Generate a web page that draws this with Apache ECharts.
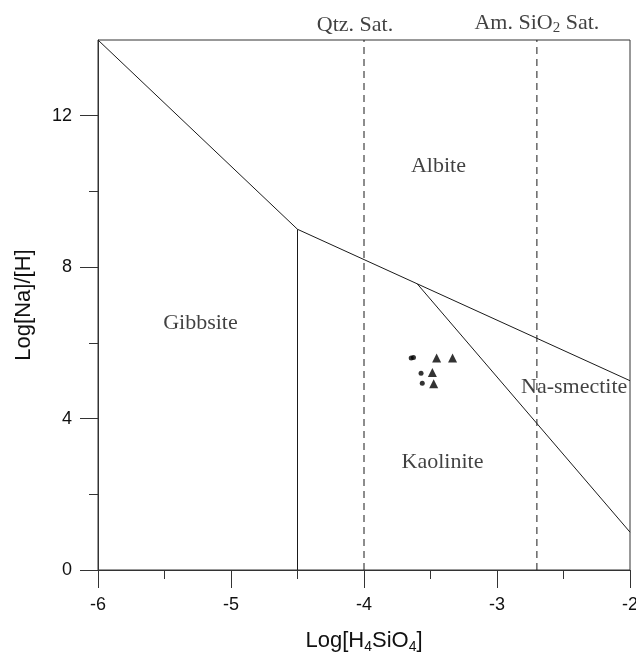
<!DOCTYPE html>
<html>
<head>
<meta charset="utf-8">
<script src="https://cdn.jsdelivr.net/npm/echarts@6/dist/echarts.min.js"></script>
<style>
  html, body { margin: 0; padding: 0; background: #fff; }
  #chart { width: 636px; height: 659px; }
</style>
</head>
<body>
<div id="chart"></div>
<script>
// Stability field boundaries, Log[H4SiO4] vs Log[Na]/[H]
const gibbsiteAlbite = [[-6, 14], [-4.5, 9]];
const gibbsiteKaolinite = [[-4.5, 0], [-4.5, 9]];
const kaoliniteAlbite = [[-4.5, 9], [-3.6, 7.56], [-2, 5]];
const kaoliniteSmectite = [[-3.6, 7.56], [-2, 1]];

// Silica saturation lines
const qtzSat = [[-4, 0], [-4, 14]];
const amSiO2Sat = [[-2.7, 0], [-2.7, 14]];

// Water samples
const circleSamples = [[-3.645, 5.6], [-3.628, 5.61], [-3.571, 5.2], [-3.562, 4.93]];
const triangleSamples = [[-3.454, 5.6], [-3.334, 5.6], [-3.486, 5.22], [-3.476, 4.92]];

// Field names and where they sit
const fieldNames = ['Albite', 'Gibbsite', 'Kaolinite', 'Na-smectite'];
const fieldAnchors = [[-3.44, 10.66], [-5.23, 6.53], [-3.41, 2.84], [-2.42, 4.82]];

// Saturation line captions
const satNames = ['Qtz. Sat.', '{t|Am. SiO}{s|2}{t| Sat.}'];
const satAnchors = [[-4, 14], [-2.7, 14]];

// Axis ticks
const xRange = { min: -6, max: -2, interval: 1 };
const yRange = { min: 0, max: 14 };
const yMajorTicks = [0, 4, 8, 12];
const yMinorTicks = [2, 6, 10];

const ink = '#1a1a1a';
const axisInk = '#333';
const serif = '"Liberation Serif", "Times New Roman", serif';
const sans = '"Liberation Sans", Arial, Helvetica, sans-serif';

function boundary(data, dashed) {
  return {
    type: 'line', data: data, symbol: 'none', silent: true,
    lineStyle: { color: ink, width: 1, type: dashed ? [7, 5] : 'solid' },
    z: 3
  };
}

const subRich = (family, size, subSize, lh) => ({
  t: { fontSize: size, fontFamily: family, color: '#111', lineHeight: lh },
  s: { fontSize: subSize, fontFamily: family, color: '#111', verticalAlign: 'bottom', lineHeight: subSize + 2 }
});

const chart = echarts.init(document.getElementById('chart'));
chart.setOption({
  animation: false,
  backgroundColor: '#fff',
  grid: {
    left: 98, right: 6, top: 40, bottom: 89,
    outerBoundsMode: 'none', containLabel: false,
    show: true, borderColor: axisInk, borderWidth: 1, backgroundColor: 'transparent'
  },
  xAxis: {
    type: 'value', min: xRange.min, max: xRange.max, interval: xRange.interval,
    axisLine: { show: true, onZero: false, lineStyle: { color: axisInk, width: 1 } },
    axisTick: { show: true, length: 18, lineStyle: { color: axisInk } },
    minorTick: { show: true, splitNumber: 2, length: 9, lineStyle: { color: axisInk } },
    splitLine: { show: false },
    axisLabel: { color: '#111', fontSize: 18, fontFamily: sans, margin: 26 },
    name: '{t|Log[H}{s|4}{t|SiO}{s|4}{t|]}',
    nameLocation: 'middle', nameGap: 57,
    nameTextStyle: { rich: subRich(sans, 22, 14, 27) }
  },
  yAxis: [
    {
      type: 'value', min: yRange.min, max: yRange.max,
      axisLine: { show: true, onZero: false, lineStyle: { color: axisInk, width: 1 } },
      axisTick: { show: true, length: 18, customValues: yMajorTicks, lineStyle: { color: axisInk } },
      splitLine: { show: false },
      axisLabel: { color: '#111', fontSize: 18, fontFamily: sans, margin: 26, customValues: yMajorTicks },
      name: 'Log[Na]/[H]', nameLocation: 'middle', nameGap: 63,
      nameTextStyle: { fontSize: 22, fontFamily: sans, color: '#111' }
    },
    {
      type: 'value', min: yRange.min, max: yRange.max, position: 'left',
      axisLine: { show: false },
      axisTick: { show: true, length: 9, customValues: yMinorTicks, lineStyle: { color: axisInk } },
      axisLabel: { show: false, customValues: yMinorTicks },
      splitLine: { show: false }
    }
  ],
  series: [
    boundary(gibbsiteAlbite),
    boundary(gibbsiteKaolinite),
    boundary(kaoliniteAlbite),
    boundary(kaoliniteSmectite),
    boundary(qtzSat, true),
    boundary(amSiO2Sat, true),
    {
      type: 'scatter', data: circleSamples, symbol: 'circle', symbolSize: 5,
      itemStyle: { color: '#000' }, z: 5
    },
    {
      type: 'scatter', data: triangleSamples, symbol: 'triangle', symbolSize: 9,
      itemStyle: { color: '#000' }, z: 5
    },
    {
      type: 'scatter', symbolSize: 0, silent: true,
      data: fieldNames.map((n, i) => ({ value: fieldAnchors[i], name: n })),
      label: {
        show: true, position: 'inside', formatter: p => p.name,
        color: '#111', fontSize: 22, fontFamily: serif
      }
    },
    {
      type: 'scatter', symbolSize: 0, silent: true,
      data: satNames.map((n, i) => ({
        value: satAnchors[i], name: n,
        label: i === 0 ? { offset: [-9, 0] } : {}
      })),
      label: {
        show: true, position: 'top', distance: 4, formatter: p => p.name,
        color: '#111', fontSize: 22, fontFamily: serif,
        rich: subRich(serif, 22, 15, 26)
      }
    }
  ]
});
</script>
</body>
</html>
